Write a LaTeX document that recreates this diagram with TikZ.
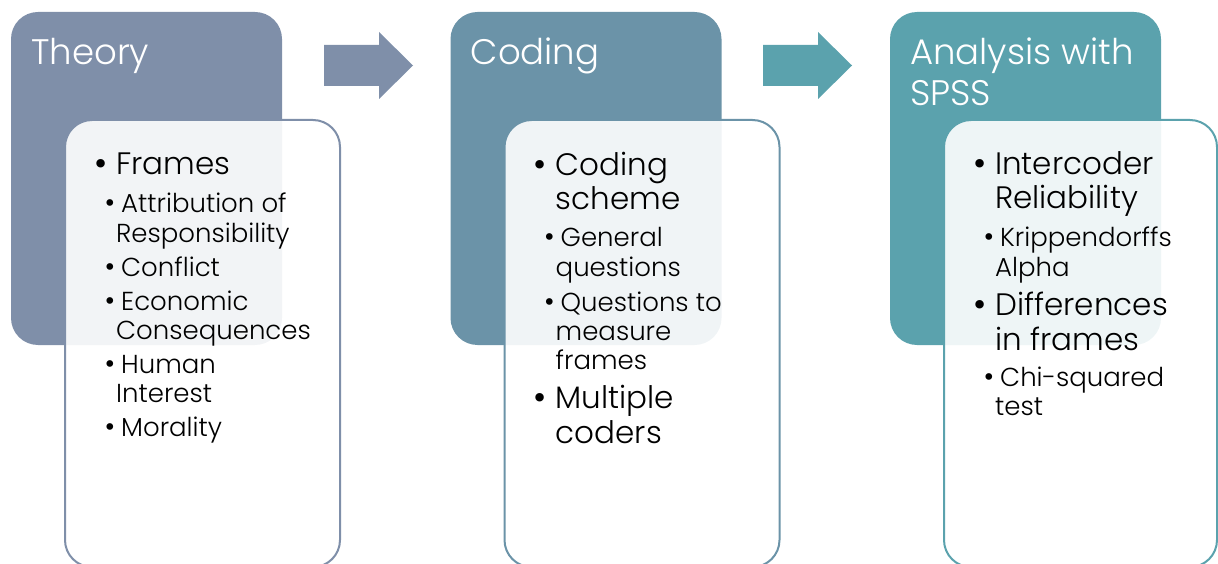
\documentclass[tikz,border=0pt]{standalone}
\usepackage{fontspec}
\setmainfont{Poppins Light}
\newfontfamily\bulfont{DejaVu Sans}
\definecolor{cA}{HTML}{7F8FA9}
\definecolor{cB}{HTML}{6B93A8}
\definecolor{cC}{HTML}{5BA2AD}
\begin{document}
\begin{tikzpicture}[x=1pt,y=-1pt,
  hdr/.style={rounded corners=27pt,draw=none},
  cbox/.style={rounded corners=27pt,fill=white,fill opacity=0.9,line width=2pt},
  htxt/.style={anchor=base west,inner sep=0pt,text=white,font=\fontsize{35.5}{41}\selectfont},
  lone/.style={anchor=base west,inner sep=0pt,text=black,font=\fontsize{31}{35}\selectfont},
  ltwo/.style={anchor=base west,inner sep=0pt,text=black,font=\fontsize{26}{29}\selectfont},
  bone/.style={anchor=base west,inner sep=0pt,text=black,font=\bulfont\fontsize{29}{30}\selectfont},
  btwo/.style={anchor=base west,inner sep=0pt,text=black,font=\bulfont\fontsize{23}{24}\selectfont}]
\useasboundingbox (0,0) rectangle (1218,564);
% ---------- column 1 ----------
\begin{scope}
\path[hdr,fill=cA] (11,12) rectangle (282,345);
\path[cbox,draw=cA] (65,120) rectangle (340,567);
\node[htxt] (h1) at (31,65) {Theory};
\node[bone] (b1a) at (92,175) {•};
\node[lone] (t1a) at (116,175) {Frames};
\node[btwo] (b1b) at (103,212) {•};
\node[ltwo] (t1b) at (121,213) {Attribution of};
\node[ltwo] (t1c) at (116,242) {Responsibility};
\node[btwo] (b1d) at (103,275) {•};
\node[ltwo] (t1d) at (121,276) {Conflict};
\node[btwo] (b1e) at (103,309) {•};
\node[ltwo] (t1e) at (121,310) {Economic};
\node[ltwo] (t1f) at (116,339) {Consequences};
\node[btwo] (b1g) at (103,372) {•};
\node[ltwo] (t1g) at (121,373) {Human};
\node[ltwo] (t1h) at (116,402) {Interest};
\node[btwo] (b1i) at (103,435) {•};
\node[ltwo] (t1i) at (121,436) {Morality};
\end{scope}
% arrow 1
\fill[cA] (324,45) -- (379,45) -- (379,32) -- (413,65.5) -- (379,99) -- (379,86) -- (324,86) -- cycle;
% ---------- column 2 ----------
\begin{scope}[xshift=439.5pt]
\path[hdr,fill=cB] (11,12) rectangle (282,345);
\path[cbox,draw=cB] (65,120) rectangle (340,567);
\node[htxt] (h2) at (31,65) {Coding};
\node[bone] (b2a) at (92,176) {•};
\node[lone] (t2a) at (116,176) {Coding};
\node[lone] (t2b) at (116,210) {scheme};
\node[btwo] (b2c) at (103,246) {•};
\node[ltwo] (t2c) at (121,247) {General};
\node[ltwo] (t2d) at (116,276) {questions};
\node[btwo] (b2e) at (103,310) {•};
\node[ltwo] (t2e) at (121,311) {Questions to};
\node[ltwo] (t2f) at (116,340) {measure};
\node[ltwo] (t2g) at (116,369) {frames};
\node[bone] (b2h) at (92,408) {•};
\node[lone] (t2h) at (116,408) {Multiple};
\node[lone] (t2i) at (116,443) {coders};
\end{scope}
% arrow 2
\fill[cC] (763,45) -- (818,45) -- (818,32) -- (852,65.5) -- (818,99) -- (818,86) -- (763,86) -- cycle;
% ---------- column 3 ----------
\begin{scope}[xshift=879pt]
\path[hdr,fill=cC] (11,12) rectangle (282,345);
\path[cbox,draw=cC] (65,120) rectangle (338,567);
\node[htxt] (h3) at (31,65) {Analysis with};
\node[htxt] (h3b) at (31,106) {SPSS};
\node[bone] (b3a) at (92,175) {•};
\node[lone] (t3a) at (116,175) {Intercoder};
\node[lone] (t3b) at (116,209) {Reliability};
\node[btwo] (b3c) at (103,246) {•};
\node[ltwo] (t3c) at (121,247) {Krippendorffs};
\node[ltwo] (t3d) at (116,276) {Alpha};
\node[bone] (b3e) at (92,315) {•};
\node[lone] (t3e) at (116,315) {Differences};
\node[lone] (t3f) at (116,350) {in frames};
\node[btwo] (b3g) at (103,385) {•};
\node[ltwo] (t3g) at (121,386) {Chi-squared};
\node[ltwo] (t3h) at (116,415) {test};
\end{scope}
\end{tikzpicture}
\end{document}
